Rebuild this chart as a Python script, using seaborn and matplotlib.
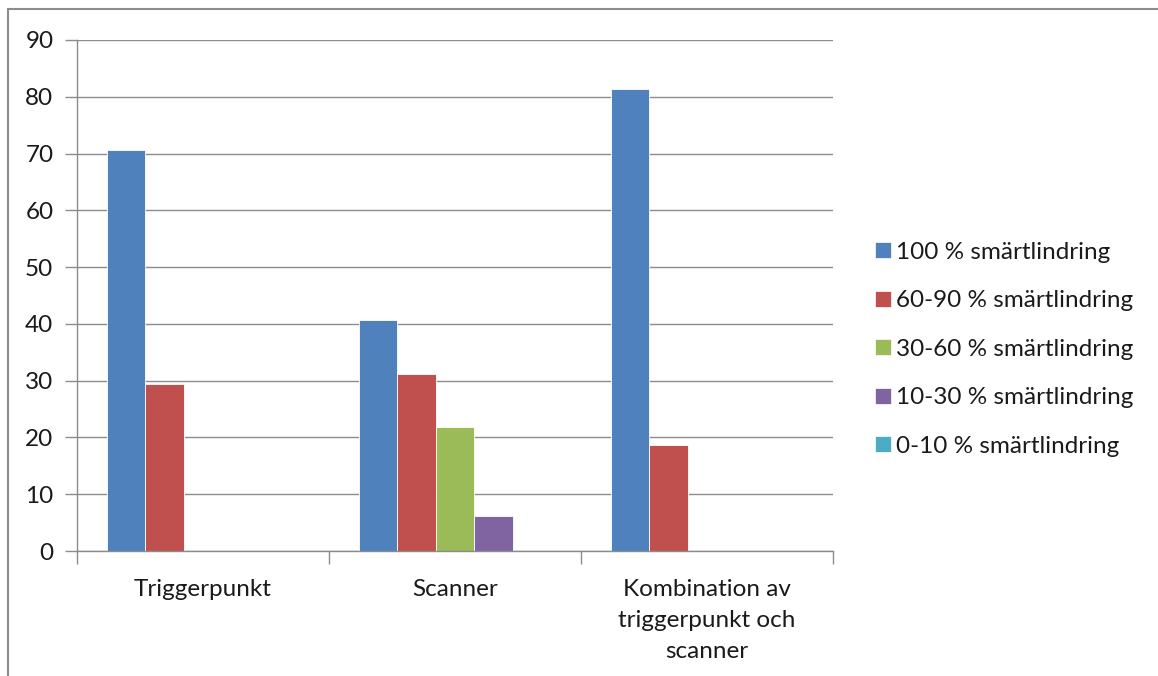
import pandas as pd
import matplotlib.pyplot as plt
import seaborn as sns
from matplotlib.lines import Line2D

# data
categories = ["Triggerpunkt", "Scanner", "Kombination av\ntriggerpunkt och\nscanner"]
series = ["100 % smärtlindring", "60-90 % smärtlindring", "30-60 % smärtlindring",
          "10-30 % smärtlindring", "0-10 % smärtlindring"]
vals_100 = [70.6, 40.6, 81.3]
vals_60_90 = [29.4, 31.1, 18.7]
vals_30_60 = [0, 21.8, 0]
vals_10_30 = [0, 6.2, 0]
vals_0_10 = [0, 0, 0]
colors = ["#4F81BD", "#C0504D", "#9BBB59", "#8064A2", "#4BACC6"]

rows = []
for name, vals in zip(series, [vals_100, vals_60_90, vals_30_60, vals_10_30, vals_0_10]):
    for cat, v in zip(categories, vals):
        rows.append({"Metod": cat, "Serie": name, "Andel": v})
df = pd.DataFrame(rows)

sns.set_theme(style="white")
plt.rcParams['font.family'] = ['Lato', 'DejaVu Sans']
txt = "#1a1a1a"
grid_col = "#8c8c8c"

fig = plt.figure(figsize=(11.58, 6.76), dpi=100)
ax = fig.add_axes([77 / 1158, 1 - 551 / 676, (833 - 77) / 1158, (551 - 40) / 676])

sns.barplot(data=df, x="Metod", y="Andel", hue="Serie", hue_order=series,
            order=categories, palette=colors, saturation=1, width=0.764, ax=ax,
            edgecolor="white", linewidth=0.6, legend=False)

ax.set_xlim(-0.5, 2.5)
ax.set_ylim(0, 90)
ax.set_yticks(range(0, 91, 10))
ax.set_xlabel("")
ax.set_ylabel("")
ax.set_axisbelow(True)
ax.yaxis.grid(True, color=grid_col, linewidth=1)
ax.xaxis.grid(False)

for side in ["top", "right"]:
    ax.spines[side].set_visible(False)
for side in ["left", "bottom"]:
    ax.spines[side].set_color(grid_col)
    ax.spines[side].set_linewidth(1)

ax.tick_params(axis="y", which="major", left=True, length=9, width=1, color=grid_col,
               labelsize=17.5, labelcolor=txt, pad=8)
ax.set_xticks([-0.5, 0.5, 1.5, 2.5], minor=True)
ax.tick_params(axis="x", which="minor", bottom=True, length=9, width=1, color=grid_col)
ax.tick_params(axis="x", which="major", bottom=False, labelsize=17.5, labelcolor=txt, pad=14)
for lab in ax.get_xticklabels():
    lab.set_linespacing(1.6)

handles = [Line2D([0], [0], marker="s", linestyle="none", markersize=11,
                  markerfacecolor=c, markeredgecolor="white", markeredgewidth=0.5)
           for c in colors]
fig.legend(handles, series, loc="upper left", bbox_to_anchor=(850 / 1158, 1 - 220 / 676),
           frameon=False, fontsize=17.5, handletextpad=0.1, labelspacing=1.13,
           handlelength=0.9, labelcolor=txt)

# outer chart border (only top and left edges visible in the crop)
fig.add_artist(Line2D([8 / 1158, 8 / 1158], [0, 1 - 9 / 676], transform=fig.transFigure,
                      color=grid_col, linewidth=1.5))
fig.add_artist(Line2D([8 / 1158, 1], [1 - 9 / 676, 1 - 9 / 676], transform=fig.transFigure,
                      color=grid_col, linewidth=1.5))

fig.savefig("out.png", dpi=100)
